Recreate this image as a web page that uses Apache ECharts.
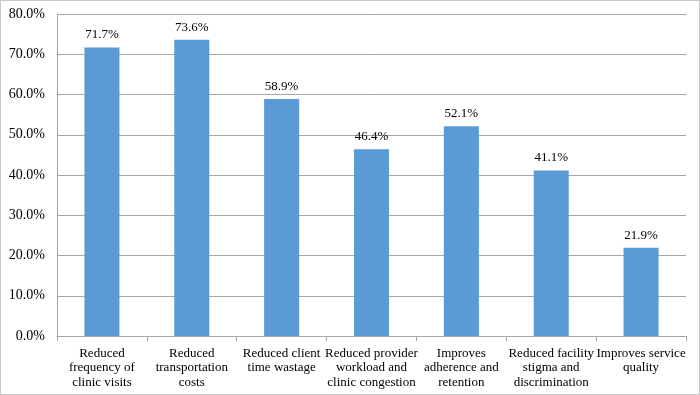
<!DOCTYPE html>
<html><head><meta charset="utf-8">
<script src="https://cdn.jsdelivr.net/npm/echarts@6/dist/echarts.min.js"></script>
<style>html,body{margin:0;padding:0;background:#fff}#c{width:700px;height:395px;box-sizing:border-box;border:1px solid #c8c8c8}</style>
</head><body><div id="c"></div>
<script>
const categories = ["Reduced\nfrequency of\nclinic visits","Reduced\ntransportation\ncosts","Reduced client\ntime wastage","Reduced provider\nworkload and\nclinic congestion","Improves\nadherence and\nretention","Reduced facility\nstigma and\ndiscrimination","Improves service\nquality"];
const values = [71.7, 73.6, 58.9, 46.4, 52.1, 41.1, 21.9];
const yTicks = {min: 0, max: 80, interval: 10};
const font = "'Liberation Serif','Times New Roman',serif";
const chart = echarts.init(document.getElementById('c'));
chart.setOption({
  animation: false,
  grid: {left: 56, right: 13, top: 13, bottom: 58},
  xAxis: {type: 'category', data: categories,
    axisLine: {lineStyle: {color: '#a6a6a6'}},
    axisTick: {show: true, length: 5, lineStyle: {color: '#a6a6a6'}},
    axisLabel: {fontFamily: font, fontSize: 13, color: '#000', lineHeight: 14.5, margin: 10, interval: 0}
  },
  yAxis: {type: 'value', min: yTicks.min, max: yTicks.max, interval: yTicks.interval,
    axisLine: {show: true, lineStyle: {color: '#a6a6a6'}},
    axisTick: {show: false},
    splitLine: {lineStyle: {color: '#a6a6a6'}},
    axisLabel: {fontFamily: font, fontSize: 14, color: '#000', formatter: v => v.toFixed(1) + '%', margin: 12}
  },
  series: [{type: 'bar', data: values, barWidth: '39%',
    itemStyle: {color: '#5b9bd5'},
    label: {show: true, position: 'top', distance: 6, fontFamily: font, fontSize: 13, color: '#000', formatter: p => p.value.toFixed(1) + '%'}
  }]
});
</script></body></html>
